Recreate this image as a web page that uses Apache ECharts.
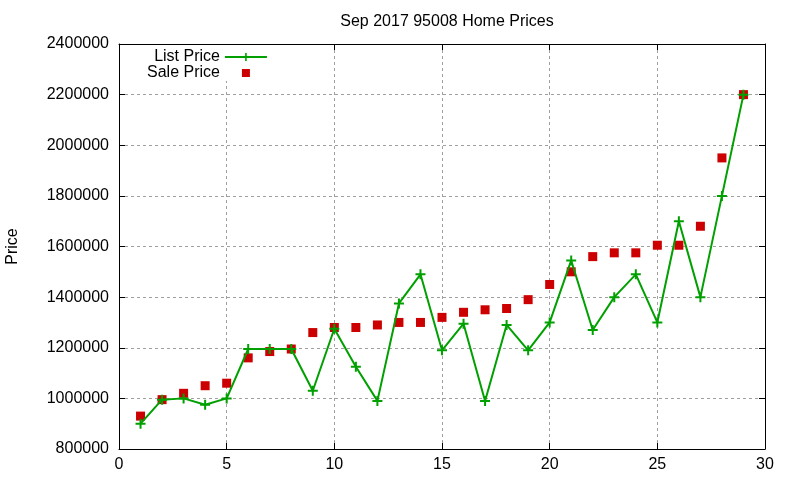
<!DOCTYPE html>
<html>
<head>
<meta charset="utf-8">
<title>Sep 2017 95008 Home Prices</title>
<script src="https://cdn.jsdelivr.net/npm/echarts@6/dist/echarts.min.js"></script>
<style>
  html, body { margin: 0; padding: 0; background: #fff; }
  #chart { width: 800px; height: 480px; }
</style>
</head>
<body>
<div id="chart"></div>
<script>
// 数据：按图读取
const homeIdx = [1, 2, 3, 4, 5, 6, 7, 8, 9, 10, 11, 12, 13, 14, 15, 16, 17, 18, 19, 20, 21, 22, 23, 24, 25, 26, 27, 28, 29];
const listPrice = [900000, 995000, 1000000, 975000, 1000000, 1195000, 1195000, 1195000, 1030000, 1275000,
  1125000, 990000, 1375000, 1490000, 1190000, 1295000, 990000, 1290000, 1190000, 1300000,
  1545000, 1270000, 1400000, 1490000, 1300000, 1700000, 1400000, 1800000, 2200000];
const salePrice = [930000, 995000, 1020000, 1050000, 1060000, 1160000, 1185000, 1195000, 1260000, 1280000,
  1280000, 1290000, 1300000, 1300000, 1320000, 1340000, 1350000, 1355000, 1390000, 1450000,
  1500000, 1560000, 1575000, 1575000, 1605000, 1605000, 1680000, 1950000, 2200000];
const xTicks = { min: 0, max: 30, interval: 5 };
const yTicks = { min: 800000, max: 2400000, interval: 200000 };

const FONT = 'Liberation Sans';
const GREEN = '#00a000';
const RED = '#cc0000';
const PLUS = 'path://M4,0H6V4H10V6H6V10H4V6H0V4H4Z';
// 图例里的小方块：前两个 M 只用来撑开包围盒，避免方块被拉伸
const SQUARE_ICON = 'path://M0,0M41,10M16.5,1h8v8h-8z';

// 创建坐标轴（主轴带标签，镜像轴只画刻度）
function makeAxis(ticks, position, withLabel, labelMargin) {
  return {
    type: 'value',
    position: position,
    min: ticks.min,
    max: ticks.max,
    interval: ticks.interval,
    axisLine: { show: true, onZero: false, lineStyle: { color: '#000', width: 1 } },
    axisTick: { show: true, inside: true, length: 6, lineStyle: { color: '#000', width: 1 } },
    axisLabel: {
      show: withLabel,
      color: '#000',
      fontFamily: FONT,
      fontSize: 16,
      margin: labelMargin,
      formatter: v => String(v)
    },
    splitLine: {
      show: withLabel,
      lineStyle: { color: '#a0a0a0', type: [3, 3], width: 1 }
    }
  };
}

const chart = echarts.init(document.getElementById('chart'));

const yMain = makeAxis(yTicks, 'left', true, 10);
yMain.name = 'Price';
yMain.nameLocation = 'middle';
yMain.nameGap = 98;
yMain.nameTextStyle = { color: '#000', fontFamily: FONT, fontSize: 16 };

chart.setOption({
  animation: false,
  backgroundColor: '#fff',
  title: {
    text: 'Sep 2017 95008 Home Prices',
    left: 442,
    top: 9,
    textAlign: 'center',
    textStyle: { color: '#000', fontFamily: FONT, fontSize: 16, fontWeight: 'normal' }
  },
  legend: {
    orient: 'vertical',
    left: 144,
    top: 45,
    padding: [4, 3, 0, 3],
    backgroundColor: '#fff',
    align: 'right',
    itemWidth: 42,
    itemHeight: 10,
    itemGap: 0,
    textStyle: { color: '#000', fontFamily: FONT, fontSize: 16 },
    data: [
      { name: 'List Price' },
      { name: 'Sale Price', icon: SQUARE_ICON }
    ]
  },
  grid: { left: 119, right: 35, top: 44, bottom: 31, outerBoundsMode: 'none' },
  xAxis: [makeAxis(xTicks, 'bottom', true, 8), makeAxis(xTicks, 'top', false, 8)],
  yAxis: [yMain, makeAxis(yTicks, 'right', false, 10)],
  series: [
    {
      name: 'List Price',
      type: 'line',
      xAxisIndex: 0,
      yAxisIndex: 0,
      data: homeIdx.map((x, i) => [x, listPrice[i]]),
      symbol: PLUS,
      symbolSize: 10,
      showAllSymbol: true,
      lineStyle: { color: GREEN, width: 2 },
      itemStyle: { color: GREEN },
      z: 3
    },
    {
      name: 'Sale Price',
      type: 'scatter',
      xAxisIndex: 0,
      yAxisIndex: 0,
      data: homeIdx.map((x, i) => [x, salePrice[i]]),
      symbol: 'rect',
      symbolSize: 9,
      itemStyle: { color: RED, opacity: 1 },
      z: 2
    }
  ]
});

window.addEventListener('resize', () => chart.resize());
</script>
</body>
</html>
